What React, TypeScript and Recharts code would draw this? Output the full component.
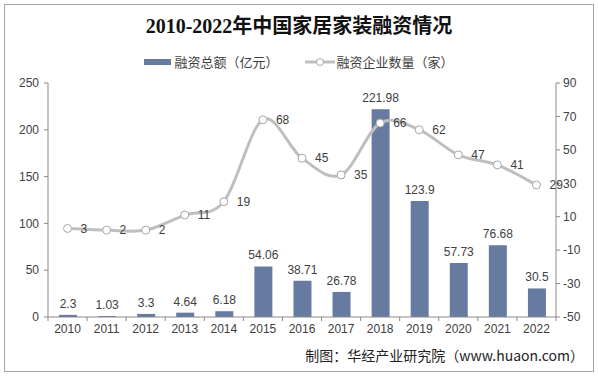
import React from 'react';
import {
  ComposedChart,
  Bar,
  Line,
  XAxis,
  YAxis,
  LabelList,
} from 'recharts';

// 年份、融资总额（亿元）、融资企业数量（家）
const years = ['2010', '2011', '2012', '2013', '2014', '2015', '2016', '2017', '2018', '2019', '2020', '2021', '2022'];
const amounts = [2.3, 1.03, 3.3, 4.64, 6.18, 54.06, 38.71, 26.78, 221.98, 123.9, 57.73, 76.68, 30.5];
const counts = [3, 2, 2, 11, 19, 68, 45, 35, 66, 62, 47, 41, 29];
const leftTicks = [0, 50, 100, 150, 200, 250];
const rightTicks = [-50, -30, -10, 10, 30, 50, 70, 90];

const data = years.map((year, i) => ({ year, amount: amounts[i], count: counts[i] }));

const AXIS = '#898989';
const TEXT = '#404040';
const FONT = '"Liberation Sans", Arial, sans-serif';
const CJK = '"Noto Sans CJK SC", "Liberation Sans", sans-serif';

// Excel 风格的平滑曲线 (Catmull-Rom)
const smoothCurve: any = (context: any) => {
  let pts: [number, number][] = [];
  return {
    areaStart() {},
    areaEnd() {},
    lineStart() {
      pts = [];
    },
    lineEnd() {
      if (!pts.length) return;
      context.moveTo(pts[0][0], pts[0][1]);
      for (let i = 0; i < pts.length - 1; i++) {
        const p0 = pts[i - 1] || pts[i];
        const p1 = pts[i];
        const p2 = pts[i + 1];
        const p3 = pts[i + 2] || p2;
        context.bezierCurveTo(
          p1[0] + (p2[0] - p0[0]) / 6,
          p1[1] + (p2[1] - p0[1]) / 6,
          p2[0] - (p3[0] - p1[0]) / 6,
          p2[1] - (p3[1] - p1[1]) / 6,
          p2[0],
          p2[1]
        );
      }
    },
    point(x: number, y: number) {
      pts.push([+x, +y]);
    },
  };
};

// x 轴刻度：刻度线画在类目之间
const YearTick = (props: any) => {
  const { x, y, payload, index } = props;
  const half = payload && payload.offset ? payload.offset : 19.5;
  const last = index === years.length - 1;
  return (
    <g>
      <line x1={x - half} x2={x - half} y1={y - 6} y2={y - 2} stroke={AXIS} />
      {last && <line x1={x + half} x2={x + half} y1={y - 6} y2={y - 2} stroke={AXIS} />}
      <text x={x} y={y + 1} dy="0.71em" textAnchor="middle" fill={TEXT} fontSize={12} fontFamily={FONT}>
        {payload.value}
      </text>
    </g>
  );
};

const App: React.FC = () => {
  return (
    <div style={{ position: 'absolute', left: 0, top: 0, width: 598, height: 376, background: '#fff' }}>
      <div
        style={{
          position: 'absolute',
          left: 4,
          top: 4,
          width: 588,
          height: 366,
          border: '1px solid #a6a6a6',
        }}
      />
      <div
        style={{
          position: 'absolute',
          top: 13,
          left: 0,
          width: 598,
          textAlign: 'center',
          fontFamily: '"Liberation Serif", "Noto Sans CJK SC", serif',
          fontWeight: 'bold',
          fontSize: 20,
          color: '#111',
          lineHeight: '26px',
        }}
      >
        2010-2022年中国家居家装融资情况
      </div>
      <div
        style={{
          position: 'absolute',
          top: 53,
          left: 0,
          width: 598,
          display: 'flex',
          justifyContent: 'center',
          alignItems: 'center',
          fontFamily: CJK,
          fontSize: 13,
          color: TEXT,
          lineHeight: '18px',
        }}
      >
        <span style={{ display: 'inline-block', width: 27, height: 6, background: '#677BA1', marginRight: 3 }} />
        <span>融资总额（亿元）</span>
        <svg width={30} height={10} style={{ marginLeft: 26, marginRight: 2 }}>
          <line x1={0} x2={30} y1={5} y2={5} stroke="#BFBFBF" strokeWidth={3} />
          <circle cx={15} cy={5} r={3.5} fill="#fff" stroke="#A6A6A6" strokeWidth={1} />
        </svg>
        <span>融资企业数量（家）</span>
      </div>
      <ComposedChart
        width={598}
        height={376}
        data={data}
        margin={{ top: 83, right: 8, left: 8, bottom: 29 }}
        barCategoryGap={0}
        style={{ position: 'absolute', left: 0, top: 0 }}
      >
        <XAxis
          dataKey="year"
          axisLine={{ stroke: AXIS }}
          tickLine={false}
          tickSize={4}
          tickMargin={2}
          height={30}
          interval={0}
          tick={<YearTick />}
        />
        <YAxis
          yAxisId="left"
          domain={[0, 250]}
          ticks={leftTicks}
          width={40}
          axisLine={{ stroke: AXIS }}
          tickLine={{ stroke: AXIS }}
          tickSize={4}
          tickMargin={5}
          tick={{ fill: TEXT, fontSize: 12, fontFamily: FONT }}
          interval={0}
        />
        <YAxis
          yAxisId="right"
          orientation="right"
          domain={[-50, 90]}
          ticks={rightTicks}
          width={34}
          axisLine={{ stroke: AXIS }}
          tickLine={{ stroke: AXIS }}
          tickSize={4}
          tickMargin={3}
          tick={{ fill: TEXT, fontSize: 12, fontFamily: FONT }}
          interval={0}
        />
        <Bar yAxisId="left" dataKey="amount" fill="#677BA1" barSize={18} isAnimationActive={false}>
          <LabelList
            dataKey="amount"
            position="top"
            offset={7}
            fill={TEXT}
            fontSize={12}
            fontFamily={FONT}
          />
        </Bar>
        <Line
          yAxisId="right"
          dataKey="count"
          type={smoothCurve}
          stroke="#BFBFBF"
          strokeWidth={3}
          dot={{ r: 4, fill: '#fff', stroke: '#A6A6A6', strokeWidth: 1 }}
          isAnimationActive={false}
        >
          <LabelList
            dataKey="count"
            position="right"
            offset={13}
            fill={TEXT}
            fontSize={12}
            fontFamily={FONT}
          />
        </Line>
      </ComposedChart>
      <div
        style={{
          position: 'absolute',
          right: 14,
          top: 345,
          fontFamily: CJK,
          fontSize: 14,
          color: '#222',
          lineHeight: '20px',
          whiteSpace: 'nowrap',
        }}
      >
        制图：华经产业研究院（www.huaon.com）
      </div>
    </div>
  );
};

export default App;
